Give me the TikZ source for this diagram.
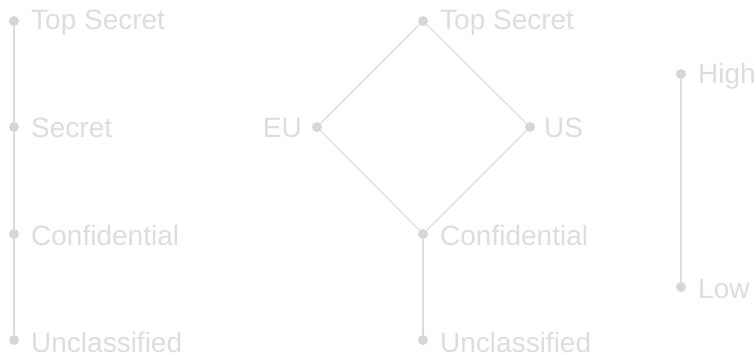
\documentclass[tikz,border=0pt]{standalone}
\usepackage{fontspec}
\setmainfont{Liberation Sans}
\definecolor{dotc}{HTML}{D6D6D6}
\definecolor{linec}{HTML}{DCDCDC}
\definecolor{textc}{HTML}{DDDDDD}
\begin{document}
\begin{tikzpicture}[x=1pt,y=-1pt,
  pt/.style={circle,fill=dotc,inner sep=0pt,minimum size=10pt},
  lblr/.style={anchor=base west,inner sep=0pt,text=textc,font=\fontsize{28}{32}\selectfont},
  lbll/.style={anchor=base east,inner sep=0pt,text=textc,font=\fontsize{28}{32}\selectfont},
  edge/.style={draw=linec,line width=1.1pt}]
\useasboundingbox (0,0) rectangle (756,354);
% left chain
\node[pt] (a1) at (14,21) {};
\node[pt] (a2) at (14,127) {};
\node[pt] (a3) at (14,234) {};
\node[pt] (a4) at (14,340) {};
\node[lblr] (la1) at (31,29) {Top Secret};
\node[lblr] (la2) at (31,137) {Secret};
\node[lblr] (la3) at (31,245) {Confidential};
\node[lblr] (la4) at (31,352) {Unclassified};
\draw[edge] (a1) -- (a2) -- (a3) -- (a4);
% middle lattice
\node[pt] (b1) at (423,21) {};
\node[pt] (eu) at (317,127) {};
\node[pt] (us) at (530,127) {};
\node[pt] (b3) at (423,234) {};
\node[pt] (b4) at (423,340) {};
\node[lblr] (lb1) at (440,29) {Top Secret};
\node[lbll] (leu) at (302,137) {EU};
\node[lblr] (lus) at (544,137) {US};
\node[lblr] (lb3) at (440,245) {Confidential};
\node[lblr] (lb4) at (440,352) {Unclassified};
\draw[edge] (b1) -- (eu) -- (b3) -- (us) -- (b1);
\draw[edge] (b3) -- (b4);
% right chain
\node[pt] (h) at (681,74) {};
\node[pt] (l) at (681,287) {};
\node[lblr] (lh) at (698,83) {High};
\node[lblr] (ll) at (698,298) {Low};
\draw[edge] (h) -- (l);
\end{tikzpicture}
\end{document}
